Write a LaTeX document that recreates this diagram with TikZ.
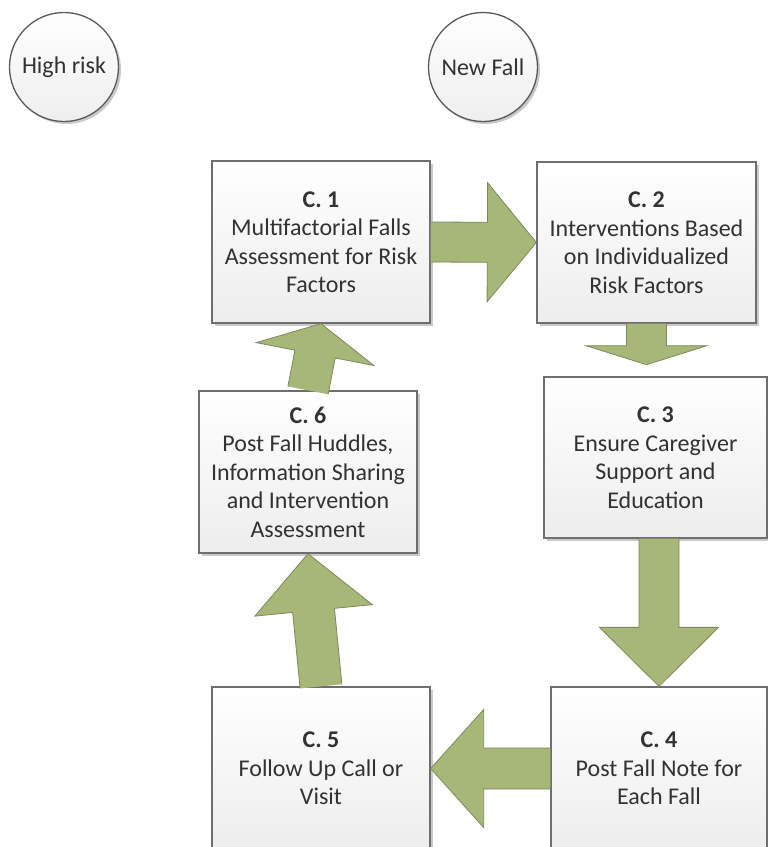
\documentclass[tikz,border=0pt]{standalone}
\usepackage{fontspec}
\setmainfont{Carlito}
\usetikzlibrary{calc,shadows}
\definecolor{arrowfill}{RGB}{167,183,120}
\definecolor{arrowline}{RGB}{125,137,92}
\definecolor{boxline}{RGB}{110,110,110}
\definecolor{txt}{RGB}{50,50,50}
\tikzset{
  x=1pt, y=-1pt,
  boxshadow/.style={drop shadow={shadow xshift=2.5pt, shadow yshift=-2.5pt, opacity=0.3, fill=black!70}},
  stepbox/.style={draw=boxline, line width=1.3pt, top color=white, bottom color=gray!14,
    inner sep=0pt, align=center, font=\fontsize{24}{28.5}\selectfont, text=txt, boxshadow},
  startcircle/.style={circle, draw=black!65, line width=1.3pt, top color=white, bottom color=gray!13,
    inner sep=0pt, minimum size=109pt, font=\fontsize{24}{28.5}\selectfont, text=txt, boxshadow},
  arrowbody/.style={fill=arrowfill},
  arrowedge/.style={draw=arrowline, line width=0.8pt, line join=miter}
}
% #1 start, #2 tip, #3 shaft half width, #4 head half width, #5 head length
\newcommand\flowarrow[5]{%
  \coordinate (fahead) at ($(#2)!#5!(#1)$);
  \path[arrowbody] ($(#1)!#3!-90:(#2)$) -- ($(fahead)!#3!-90:(#2)$) -- ($(fahead)!#4!-90:(#2)$) -- (#2)
    -- ($(fahead)!#4!90:(#2)$) -- ($(fahead)!#3!90:(#2)$) -- ($(#1)!#3!90:(#2)$) -- cycle;
  \draw[arrowedge] ($(#1)!#3!-90:(#2)$) -- ($(fahead)!#3!-90:(#2)$) -- ($(fahead)!#4!-90:(#2)$) -- (#2)
    -- ($(fahead)!#4!90:(#2)$) -- ($(fahead)!#3!90:(#2)$) -- ($(#1)!#3!90:(#2)$);
}
\begin{document}
\begin{tikzpicture}
\useasboundingbox (0,0) rectangle (768,847);
\clip (0,0) rectangle (768,847);

\node[startcircle] (hr) at (64,67) {High risk};
\node[startcircle] (nf) at (483,67) {New Fall};

\node[stepbox, minimum width=218pt, minimum height=162pt] (c1) at (321,242)
  {\textbf{C. 1}\\Multifactorial Falls\\Assessment for Risk\\Factors};
\node[stepbox, minimum width=219pt, minimum height=161pt] (c2) at (646.5,242.5)
  {\textbf{C. 2}\\Interventions Based\\on Individualized\\Risk Factors};
\node[stepbox, minimum width=223pt, minimum height=161pt] (c3) at (655.5,457.5)
  {\textbf{C. 3}\\Ensure Caregiver\\Support and\\Education};
\node[stepbox, minimum width=216pt, minimum height=163pt] (c4) at (659,768.5)
  {\textbf{C. 4}\\Post Fall Note for\\Each Fall};
\node[stepbox, minimum width=218pt, minimum height=163pt] (c5) at (321,768.5)
  {\textbf{C. 5}\\Follow Up Call or\\Visit};
\node[stepbox, minimum width=218pt, minimum height=162pt] (c6) at (308,472)
  {\textbf{C. 6}\\Post Fall Huddles,\\Information Sharing\\and Intervention\\Assessment};

\coordinate (a23t) at ($(c2.south)+(0,41)$);
\coordinate (a34s) at (c4.north |- c3.south);

\flowarrow{c1.east}{c2.west}{20pt}{59.5pt}{49pt}
\flowarrow{c2.south}{a23t}{20pt}{60.5pt}{19pt}
\flowarrow{a34s}{c4.north}{20pt}{59.5pt}{59pt}
\flowarrow{c4.west}{c5.east}{20.5pt}{59pt}{53pt}
\flowarrow{c5.north}{c6.south}{21pt}{59pt}{57pt}
\flowarrow{c6.north}{c1.south}{20.5pt}{60pt}{31pt}
\end{tikzpicture}
\end{document}
